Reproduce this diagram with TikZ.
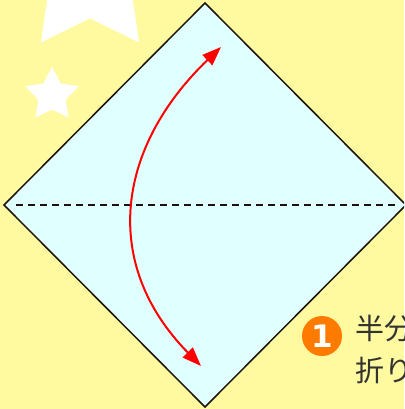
\documentclass[tikz,border=0pt]{standalone}
\usepackage{fontspec}
\usetikzlibrary{positioning, arrows.meta, shapes.geometric}

\newfontfamily\jpfont{Noto Sans CJK JP}
\newfontfamily\numfont{DejaVu Sans}

\definecolor{paperyellow}{HTML}{FFFA9F}
\definecolor{sheetcyan}{HTML}{E0FFFF}
\definecolor{edgedark}{HTML}{1E120C}
\definecolor{steporange}{HTML}{FF7B00}
\definecolor{textgray}{HTML}{333333}

\begin{document}
\begin{tikzpicture}[
  x=1pt, y=-1pt,
  font=\small,
  deco/.style     ={star, star points=5, star point ratio=1.93, fill=white, draw=none, inner sep=0pt, outer sep=0pt},
  sheet/.style    ={diamond, draw=edgedark, line width=1.5pt, fill=sheetcyan, inner sep=0pt, outer sep=0pt, minimum width=402pt, minimum height=404pt},
  foldline/.style ={draw=edgedark, line width=1.4pt, dash pattern=on 7pt off 5pt},
  foldarrow/.style={{Triangle[length=19pt, width=14pt]}-{Triangle[length=19pt, width=14pt]}, draw=red, line width=2pt},
  stepnum/.style  ={circle, fill=steporange, text=white, inner sep=0pt, minimum size=40pt, font=\numfont\bfseries\fontsize{31}{31}\selectfont},
  steptext/.style ={align=left, inner sep=0pt, text=textgray, font=\jpfont\fontsize{29}{42}\selectfont},
]

% ---- page ----
\useasboundingbox (0,0) rectangle (404,409);
\clip (0,0) rectangle (404,409);
\fill[paperyellow] (0,0) rectangle (404,409);

% ---- stars ----
\node[deco, minimum size=167pt] (bigstar)   at (90,-25) {};
\node[deco, minimum size=56pt]  (smallstar) at (52,95)  {};

% ---- the square sheet ----
\node[sheet] (paper) at (205,205) {};
\draw[foldline, shorten <=12pt, shorten >=10pt] (paper.west) -- (paper.east);

% ---- fold arrow ----
\coordinate (tiptop) at (221,47);
\coordinate (tipbot) at (201,366);
\draw[foldarrow] (tipbot) .. controls (100,263) and (117,147) .. (tiptop);

% ---- step label ----
\node[stepnum] (num) at (322,336) {1};
\node[steptext, anchor=base west] (label) at (355,381) {半分\\折り};

\end{tikzpicture}
\end{document}
